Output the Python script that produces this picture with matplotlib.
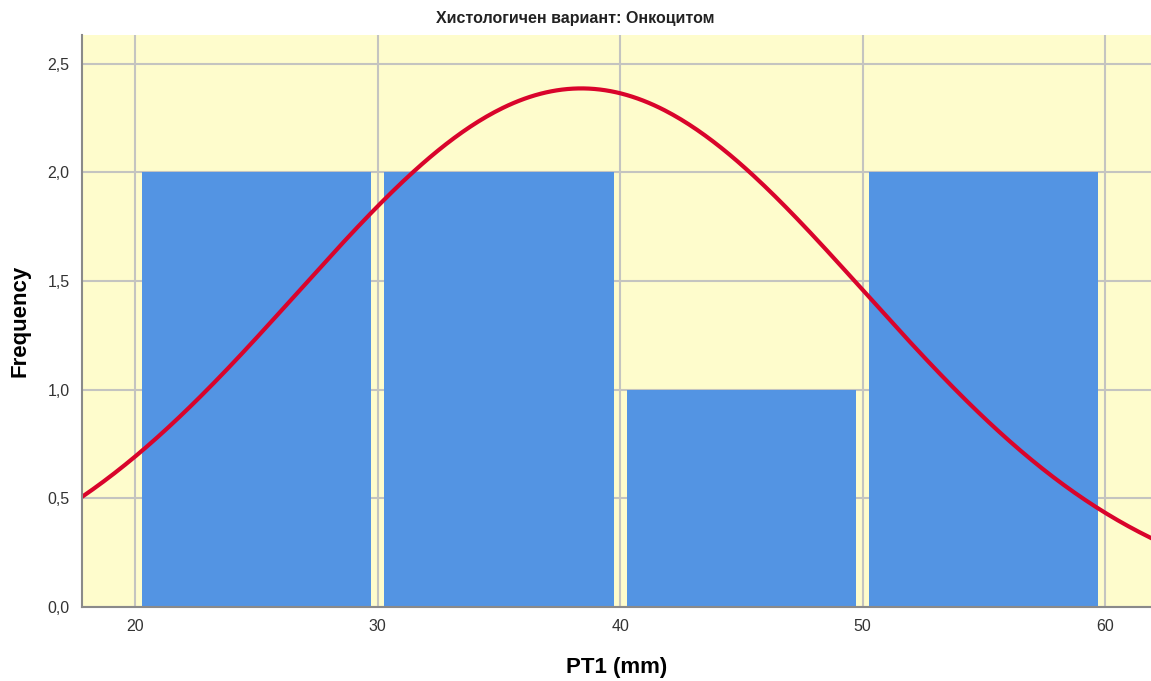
import numpy as np
import matplotlib
matplotlib.use("Agg")
import matplotlib.pyplot as plt

# histogram data (PT1 in mm)
bin_edges = [20, 30, 40, 50, 60]
counts = [2, 2, 1, 2]
# fitted normal curve parameters as shown by SPSS
mean_pt1 = 38.4
sd_pt1 = 11.7
n_cases = 7

yticks = [0.0, 0.5, 1.0, 1.5, 2.0, 2.5]
ytick_labels = ["0,0", "0,5", "1,0", "1,5", "2,0", "2,5"]
xticks = [20, 30, 40, 50, 60]

plt.rcParams['font.family'] = ['Liberation Sans', 'DejaVu Sans']

fig = plt.figure(figsize=(11.51, 6.81), dpi=100)
ax = fig.add_axes([0.0712, 0.1087, 0.9288, 0.84])
ax.set_facecolor("#fefccc")

bin_w = bin_edges[1] - bin_edges[0]
gap = 0.27
for left, c in zip(bin_edges[:-1], counts):
    ax.bar(left + gap, c, width=bin_w - 2 * gap, align="edge",
           color="#5394e3", zorder=2, linewidth=0)

xs = np.linspace(17.8, 62.2, 400)
ys = n_cases * bin_w / (sd_pt1 * np.sqrt(2 * np.pi)) * np.exp(-0.5 * ((xs - mean_pt1) / sd_pt1) ** 2)
ax.plot(xs, ys, color="#d9042b", lw=3, zorder=3, solid_capstyle="butt")

ax.set_xlim(17.8, 61.9)
ax.set_ylim(0, 2.633)
ax.set_xticks(xticks)
ax.set_yticks(yticks)
ax.set_yticklabels(ytick_labels)
ax.tick_params(length=0, labelsize=11.5, labelcolor="#333333", pad=9)
ax.grid(True, color="#c4c4c0", lw=1.5, zorder=1)
ax.set_axisbelow(True)

for s in ["top", "right"]:
    ax.spines[s].set_visible(False)
for s in ["left", "bottom"]:
    ax.spines[s].set_color("#8a8a8a")
    ax.spines[s].set_linewidth(1.5)
    ax.spines[s].set_zorder(4)

ax.set_xlabel("PT1 (mm)", fontsize=16, fontweight="bold", labelpad=16)
ax.set_ylabel("Frequency", fontsize=16, fontweight="bold", labelpad=12)
fig.text(0.5, 0.973, "Хистологичен вариант: Онкоцитом", ha="center", va="center",
         fontsize=11.5, fontweight="bold", color="#222222")

fig.savefig("out.png", dpi=100)
